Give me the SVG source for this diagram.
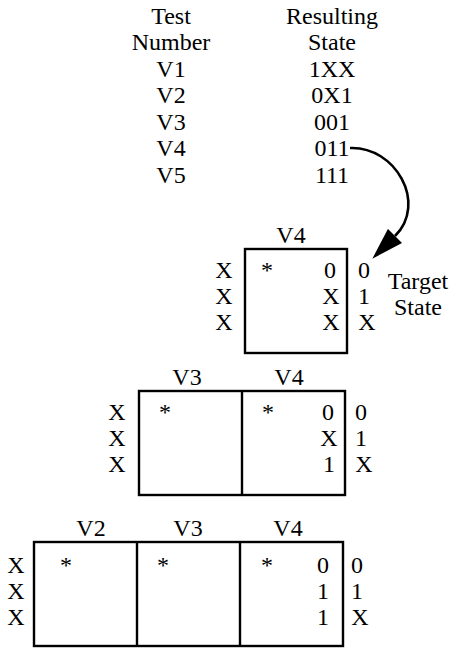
<svg xmlns="http://www.w3.org/2000/svg" width="462" height="650" viewBox="0 0 462 650">
<style>
text{font-family:"Liberation Serif","Times New Roman",serif;font-size:24px;fill:#000;text-anchor:middle}
.box{fill:none;stroke:#000;stroke-width:2.4}
.conn{fill:none;stroke:#000;stroke-width:2.6}
</style>
<defs>
<marker id="ah" viewBox="0 0 32 20" refX="0" refY="10" markerWidth="32" markerHeight="20" markerUnits="userSpaceOnUse" orient="auto">
<path d="M0,0 L32,10 L0,20 z" fill="#000"/>
</marker>
</defs>
<rect width="462" height="650" fill="#fff"/>
<g id="table">
<text x="171" y="24">Test</text>
<text x="332" y="24">Resulting</text>
<text x="171" y="50">Number</text>
<text x="332" y="50">State</text>
<text x="171" y="77">V1</text><text x="332" y="77">1XX</text>
<text x="171" y="103">V2</text><text x="332" y="103">0X1</text>
<text x="171" y="130">V3</text><text x="332" y="130">001</text>
<text x="171" y="156">V4</text><text x="332" y="156">011</text>
<text x="171" y="183">V5</text><text x="332" y="183">111</text>
</g>
<g id="target-label">
<text x="418" y="289">Target</text>
<text x="418" y="315">State</text>
</g>
<g id="box1">
<text x="291" y="243">V4</text>
<rect class="box" x="245" y="249" width="102" height="104"/>
<text x="224" y="278">X</text><text x="224" y="304">X</text><text x="224" y="330">X</text>
<text x="267" y="278">*</text>
<text x="330" y="278">0</text><text x="331" y="304">X</text><text x="331" y="330">X</text>
<text x="364" y="278">0</text><text x="364" y="304">1</text><text x="367" y="330">X</text>
</g>
<g id="box2">
<text x="187" y="385">V3</text><text x="289" y="385">V4</text>
<rect class="box" x="139" y="391" width="206" height="104"/>
<line class="box" x1="242" y1="391" x2="242" y2="495"/>
<text x="117" y="420">X</text><text x="117" y="446">X</text><text x="117" y="472">X</text>
<text x="165" y="420">*</text><text x="268" y="420">*</text>
<text x="328" y="420">0</text><text x="329" y="446">X</text><text x="329" y="472">1</text>
<text x="361" y="420">0</text><text x="361" y="446">1</text><text x="364" y="472">X</text>
</g>
<g id="box3">
<text x="91" y="536">V2</text><text x="188" y="536">V3</text><text x="288" y="536">V4</text>
<rect class="box" x="34" y="542" width="309" height="104"/>
<line class="box" x1="137" y1="542" x2="137" y2="646"/>
<line class="box" x1="240" y1="542" x2="240" y2="646"/>
<text x="16" y="573">X</text><text x="16" y="599">X</text><text x="16" y="625">X</text>
<text x="66" y="573">*</text><text x="163" y="573">*</text><text x="267" y="573">*</text>
<text x="323" y="573">0</text><text x="323" y="599">1</text><text x="323" y="625">1</text>
<text x="357" y="573">0</text><text x="357" y="599">1</text><text x="360" y="625">X</text>
</g>
<g id="connectors">
<path class="conn" d="M 350 148 C 395 146, 428 203, 395 236" marker-end="url(#ah)"/>
</g>
</svg>
